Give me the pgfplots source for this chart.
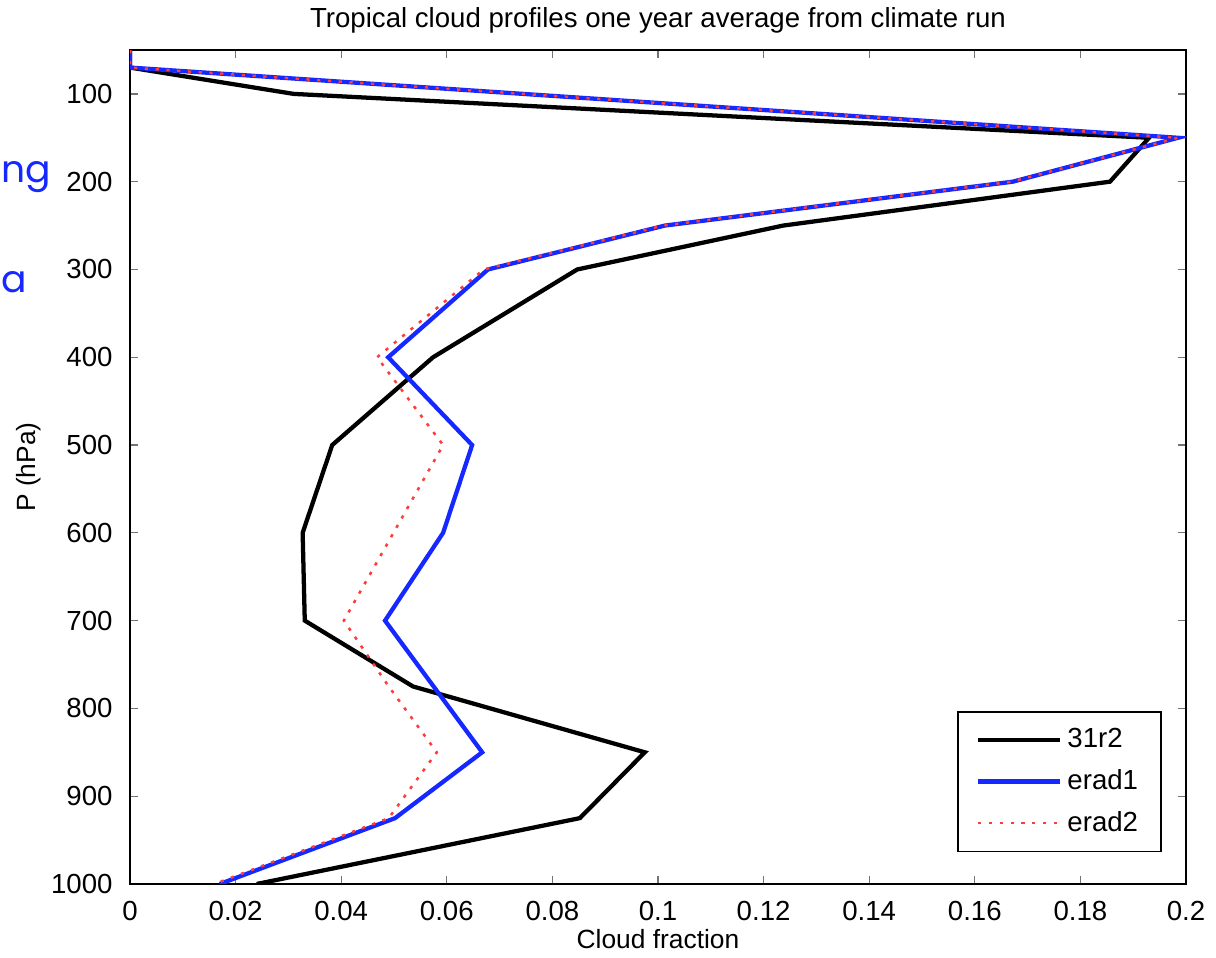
\documentclass[border=0pt]{standalone}
\usepackage{pgfplots}
\pgfplotsset{compat=1.18}
\usepackage{fontspec}
\setmainfont{Liberation Sans}
\newfontfamily\slidefont{Poppins}
\definecolor{mblue}{RGB}{20,40,255}
\definecolor{mred}{RGB}{255,60,60}

\begin{document}
\begin{tikzpicture}[x=1cm,y=1cm]
\def\px{0.14mm}
\begin{axis}[
    name=ax,
    scale only axis,
    width=147.84mm, height=116.76mm,
    xmin=0, xmax=0.2,
    ymin=50, ymax=1000,
    y dir=reverse,
    xtick={0,0.02,...,0.2},
    ytick={100,200,...,1000},
    xticklabel style={/pgf/number format/fixed, /pgf/number format/precision=2},
    /pgf/number format/1000 sep={},
    /pgf/number format/assume math mode=true,
    tick label style={font=\fontsize{11}{13}\selectfont},
    tick align=inside,
    major tick length=1.1mm,
    tick style={black!55, line width=0.5pt},
    axis line style={black, line width=0.6pt},
    xticklabel shift=1.2mm,
    yticklabel shift=1.2mm,
    title={Tropical cloud profiles one year average from climate run},
    title style={font=\fontsize{11}{13}\selectfont, at={(0.5,1)}, anchor=base, yshift=1.1mm, inner sep=0pt},
    xlabel={Cloud fraction},
    ylabel={P (hPa)},
    label style={font=\fontsize{10.5}{12}\selectfont},
    xlabel style={yshift=1.2mm},
    ylabel style={yshift=-1mm},
    legend style={at={(0.977,0.038)}, anchor=south east, draw=black, line width=0.6pt,
        font=\fontsize{11}{13}\selectfont, row sep=1.1mm, inner xsep=2.5mm, inner ysep=1.6mm},
    legend cell align=left,
    legend image code/.code={\draw[#1] (0mm,0mm) -- (11.5mm,0mm);},
]
\addplot[black, line width=1.7pt] coordinates {
(0,50) (0,70) (0.031,100) (0.193,150) (0.1856,200) (0.1237,250) (0.0847,300)
(0.0574,400) (0.0383,500) (0.0327,600) (0.0331,700) (0.0536,775) (0.0975,850)
(0.0852,925) (0.024,1000)};
\addlegendentry{31r2}
\addplot[mblue, line width=1.7pt] coordinates {
(0,50) (0,70) (0.1985,150) (0.1672,200) (0.1013,250) (0.0678,300)
(0.0489,400) (0.0648,500) (0.0593,600) (0.0483,700) (0.0575,775) (0.0667,850)
(0.0502,925) (0.017,1000)};
\addlegendentry{erad1}
\addplot[mred, line width=1pt, dash pattern=on 1.3pt off 3pt] coordinates {
(0,50) (0,70) (0.1985,150) (0.167,200) (0.101,250) (0.067,300)
(0.0468,400) (0.0593,500) (0.0499,600) (0.0405,700) (0.049,775) (0.0581,850)
(0.049,925) (0.016,1000)};
\addlegendentry{erad2}
\end{axis}
% slide text fragments at the left edge
\coordinate (TL) at ([xshift=-130*\px, yshift=50*\px]ax.north west);
\node[anchor=base west, inner sep=0pt, text=mblue, font=\slidefont\fontsize{15}{17}\selectfont]
    at ([xshift=1*\px, yshift=-183*\px]TL) {ng};
\node[anchor=base west, inner sep=0pt, text=mblue, font=\slidefont\fontsize{15}{17}\selectfont]
    at ([xshift=1*\px, yshift=-293*\px]TL) {a};
\pgfresetboundingbox
\path[use as bounding box] (TL) rectangle ([xshift=30*\px, yshift=-74*\px]ax.south east);
\end{tikzpicture}
\end{document}
